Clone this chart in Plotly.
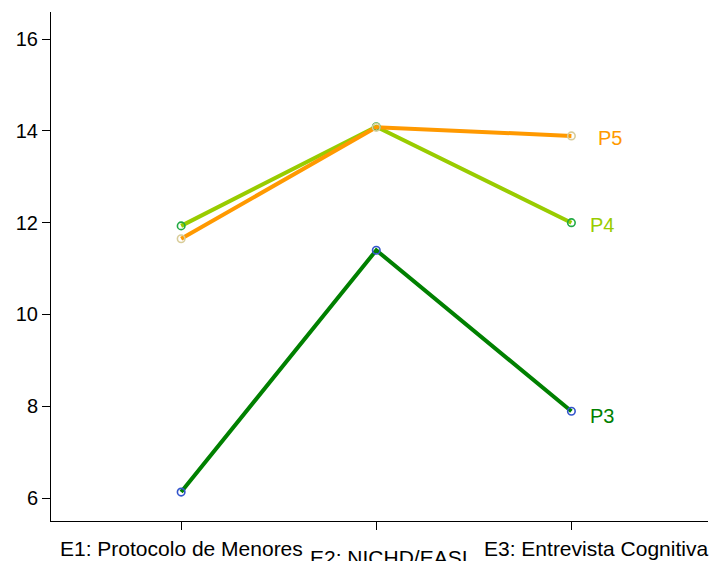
import plotly.graph_objects as go

categories = ["E1: Protocolo de Menores", "E2: NICHD/EASI", "E3: Entrevista Cognitiva"]
series_names = ["P3", "P4", "P5"]
p3 = [6.13, 11.40, 7.89]
p4 = [11.93, 14.09, 12.00]
p5 = [11.65, 14.08, 13.89]
y_ticks = [6, 8, 10, 12, 14, 16]

line_colors = {"P3": "#008000", "P4": "#99CC00", "P5": "#FF9900"}
marker_colors = {"P3": "#3355CC", "P4": "#22AA44", "P5": "#D8CC99"}
label_offsets = {"P3": (31, -5), "P4": (31, -2), "P5": (39, -2)}
cat_label_shifts = [(0, -14), (13, -23), (25, -14)]
FONT = "Liberation Sans, Arial, Helvetica, sans-serif"

fig = go.Figure()
xi = list(range(len(categories)))
for name, vals in zip(series_names, [p3, p4, p5]):
    fig.add_trace(go.Scatter(
        x=xi, y=vals, mode="lines", line=dict(color=line_colors[name], width=4),
        showlegend=False, hoverinfo="skip"))
for name, vals in zip(series_names, [p3, p4, p5]):
    fig.add_trace(go.Scatter(
        x=xi, y=vals, mode="markers",
        marker=dict(symbol="circle-open", size=7.5, color=marker_colors[name], line=dict(width=1.6)),
        showlegend=False, name=name))
    dx, dy = label_offsets[name]
    fig.add_annotation(x=xi[-1], y=vals[-1], xref="x", yref="y", text=name,
                       showarrow=False, xshift=dx, yshift=dy,
                       font=dict(family=FONT, size=20, color=line_colors[name]))

for i, c in enumerate(categories):
    sx, sy = cat_label_shifts[i]
    fig.add_annotation(x=i, y=0, xref="x", yref="paper", text=c, showarrow=False,
                       yanchor="top", xshift=sx, yshift=sy,
                       font=dict(family=FONT, size=21, color="black"))

# page body has an 8px margin, so the figure is made 8px smaller and margins shifted
fig.update_layout(
    width=712, height=553, margin=dict(l=43, r=12, t=4, b=40),
    plot_bgcolor="white", paper_bgcolor="white",
    font=dict(family=FONT, size=20, color="black"),
    xaxis=dict(range=[-0.667, 2.70], tickvals=xi, ticktext=[""] * 3, showgrid=False,
               zeroline=False, showline=True, linecolor="black", linewidth=1,
               ticks="outside", ticklen=8, tickcolor="black"),
    yaxis=dict(range=[5.5, 16.59], tickvals=y_ticks, showgrid=False, zeroline=False,
               showline=True, linecolor="black", linewidth=1,
               ticks="outside", ticklen=8, tickcolor="black",
               tickfont=dict(family=FONT, size=20)),
)
fig.write_html("out.html")
